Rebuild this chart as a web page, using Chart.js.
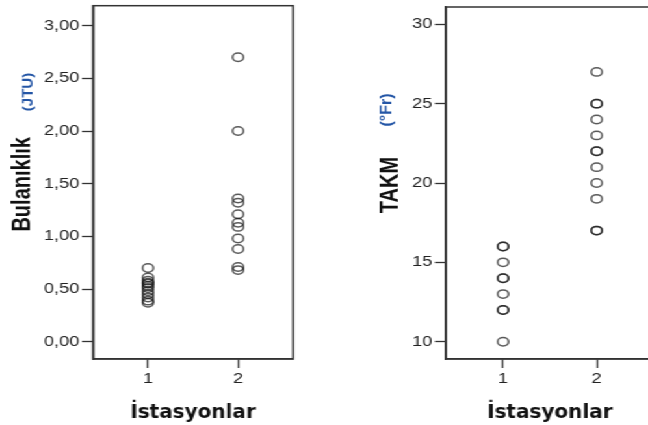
<!DOCTYPE html>
<html>
<head>
<meta charset="utf-8">
<script src="https://cdn.jsdelivr.net/npm/chart.js@4"></script>
<style>
  html, body { margin: 0; padding: 0; background: #fff; overflow: hidden; }
  /* the source image is stretched sideways, so the whole drawing is too */
  #wrap { position: absolute; left: 0; top: 0; width: 520px; height: 425px;
          transform: scaleX(1.3); transform-origin: 0 0; }
  #wrap canvas { position: absolute; top: 0; }
</style>
</head>
<body>
<div id="wrap">
  <canvas id="left" width="250" height="425" style="left:0"></canvas>
  <canvas id="right" width="262" height="425" style="left:250px"></canvas>
</div>
<script>
// Veri: istasyon 1 ve 2
const stations = [1, 2];
const turbidity1 = [0.70, 0.61, 0.58, 0.56, 0.55, 0.53, 0.51, 0.48, 0.45, 0.42, 0.39, 0.37];
const turbidity2 = [2.70, 2.00, 1.36, 1.32, 1.21, 1.13, 1.09, 0.98, 0.88, 0.71, 0.68];
const hardness1 = [16, 16, 15, 14, 14, 13, 12, 12, 10];
const hardness2 = [27, 25, 25, 24, 23, 22, 22, 21, 20, 19, 17, 17];
const turbidityTicks = [0, 0.5, 1, 1.5, 2, 2.5, 3];
const hardnessTicks = [10, 15, 20, 25, 30];

const STRETCH = 1.3;
const tickFont = { family: '"Liberation Sans", Arial, sans-serif', size: 14 };

function toPoints(groups) {
    const pts = [];
    groups.forEach((values, i) => {
        values.forEach(v => pts.push({ x: stations[i], y: v }));
    });
    return pts;
}

// cadre + eksen başlıkları
const framePlugin = {
    id: 'frame',
    afterDraw(chart, args, opts) {
        const { ctx, chartArea: a } = chart;
        ctx.save();
        ctx.strokeStyle = '#333';
        ctx.lineWidth = 1.5;
        ctx.strokeRect(a.left, a.top, a.right - a.left, a.bottom - a.top);

        ctx.textAlign = 'center';
        ctx.textBaseline = 'middle';
        ctx.fillStyle = '#111';

        // y title
        ctx.save();
        ctx.translate(opts.yTitleX, (a.top + a.bottom) / 2 + 2);
        ctx.rotate(-Math.PI / 2);
        ctx.font = 'bold 20px "Liberation Sans", Arial, sans-serif';
        ctx.fillText(opts.yTitle, 0, 0);
        ctx.restore();

        // unit
        ctx.save();
        ctx.translate(opts.unitX, opts.unitY);
        ctx.scale(1 / STRETCH, 1);
        ctx.rotate(-Math.PI / 2);
        ctx.font = 'bold ' + opts.unitSize + 'px "Liberation Sans", Arial, sans-serif';
        ctx.fillStyle = '#2456a6';
        ctx.fillText(opts.unit, 0, 0);
        ctx.restore();

        // x title (not stretched in the source)
        ctx.save();
        ctx.translate((a.left + a.right) / 2, 418);
        ctx.scale(1 / STRETCH, 1);
        ctx.textBaseline = 'alphabetic';
        ctx.font = 'bold 20px "DejaVu Sans", Verdana, sans-serif';
        ctx.fillText(opts.xTitle, 0, 0);
        ctx.restore();

        ctx.restore();
    }
};

function makeChart(id, groups, yTicks, yMin, yMax, fmt, lay) {
    return new Chart(document.getElementById(id), {
        type: 'scatter',
        data: {
            datasets: [{
                data: toPoints(groups),
                pointRadius: 4.2,
                pointHoverRadius: 4.2,
                borderWidth: 1.5,
                borderColor: 'rgba(25,25,25,0.72)',
                backgroundColor: 'rgba(0,0,0,0)'
            }]
        },
        options: {
            responsive: false,
            animation: false,
            devicePixelRatio: 1,
            layout: { padding: { top: lay.top, right: lay.right, left: 0, bottom: 0 } },
            plugins: {
                legend: { display: false },
                tooltip: { enabled: false },
                frame: lay.titles
            },
            scales: {
                x: {
                    type: 'linear',
                    min: 0.389,
                    max: 2.611,
                    afterBuildTicks: s => { s.ticks = stations.map(v => ({ value: v })); },
                    afterFit: s => { s.height = 66; s.paddingLeft = 0; s.paddingRight = 0; },
                    ticks: { font: tickFont, color: '#222', padding: 3, callback: v => String(v) },
                    grid: { drawOnChartArea: false, drawTicks: true, tickLength: 9, tickColor: '#333', tickWidth: 1.3 },
                    border: { display: true, color: '#333', width: 1.5 }
                },
                y: {
                    type: 'linear',
                    min: yMin,
                    max: yMax,
                    afterBuildTicks: s => { s.ticks = yTicks.map(v => ({ value: v })); },
                    afterFit: s => { s.width = lay.yWidth; s.paddingTop = 0; s.paddingBottom = 0; },
                    ticks: { font: tickFont, color: '#222', padding: 2, callback: fmt },
                    grid: { drawOnChartArea: false, drawTicks: true, tickLength: 8.5, tickColor: '#333', tickWidth: 1.3 },
                    border: { display: true, color: '#333', width: 1.5 }
                }
            }
        },
        plugins: [framePlugin]
    });
}

makeChart('left', [turbidity1, turbidity2], turbidityTicks, -0.164, 3.19,
    v => v.toFixed(2).replace('.', ','),
    {
        top: 5, right: 24.6, yWidth: 71.5,
        titles: { yTitle: 'Bulanıklık', yTitleX: 17.7, unit: '(JTU)', unitX: 21.5, unitY: 92, unitSize: 15, xTitle: 'İstasyonlar' }
    });

makeChart('right', [hardness1, hardness2], hardnessTicks, 8.91, 31.09,
    v => String(v),
    {
        top: 7, right: 9, yWidth: 93,
        titles: { yTitle: 'TAKM', yTitleX: 50, unit: '(°Fr)', unitX: 47.7, unitY: 110, unitSize: 16, xTitle: 'İstasyonlar' }
    });
</script>
</body>
</html>
